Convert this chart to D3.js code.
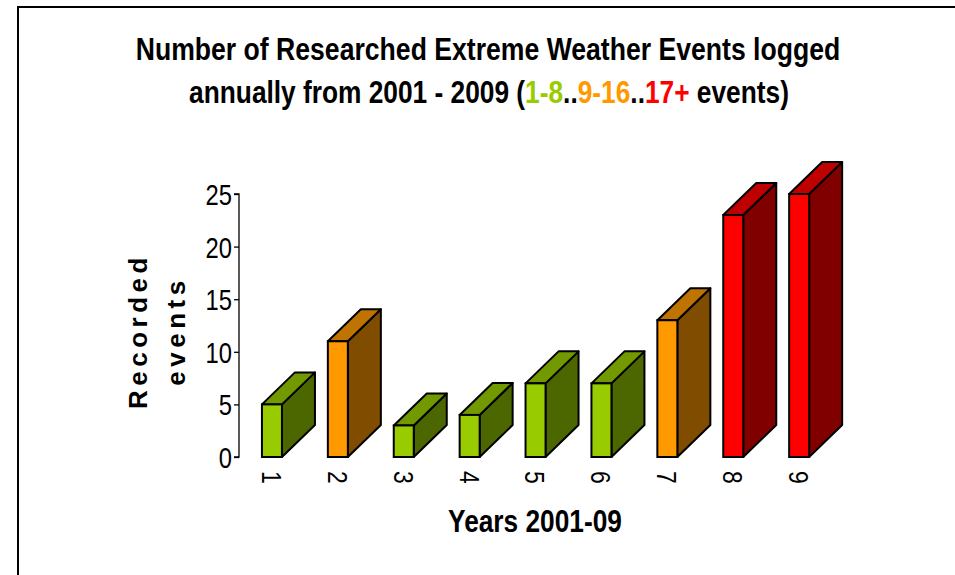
<!DOCTYPE html>
<html>
<head>
<meta charset="utf-8">
<script src="https://cdn.jsdelivr.net/npm/d3@7"></script>
<style>
  html, body { margin: 0; padding: 0; background: #fff; }
  svg { display: block; }
  text { font-family: "Liberation Sans Narrow", "Arial Narrow", "Liberation Sans", Arial, sans-serif; }
</style>
</head>
<body>
<svg id="chart" width="955" height="575"></svg>
<script>
// Years (numbered 1..9 for 2001..2009) and recorded events per year
const years = ["1", "2", "3", "4", "5", "6", "7", "8", "9"];
const events = [5, 11, 3, 4, 7, 7, 13, 23, 25];
const yTicks = [0, 5, 10, 15, 20, 25];

// Colour bands: 1-8 green, 9-16 orange, 17+ red
const bandLimits = [8, 16];
const bandFront = ["#99cc00", "#ff9900", "#ff0000"];
const bandTop   = ["#739900", "#bf7300", "#bf0000"];
const bandSide  = ["#4c6600", "#804d00", "#800000"];

const svg = d3.select("#chart");
const narrow = 0.82; // horizontal condensing for the narrow type

// squeeze a centred text horizontally so it spans the given width
function fitWidth(sel, cx, width) {
  const w = sel.node().getBBox().width;
  const s = width / w;
  sel.attr("transform", `translate(${cx},0) scale(${s},1) translate(${-cx},0)`);
}

// frame around the chart area
svg.append("rect")
  .attr("x", 18).attr("y", 7)
  .attr("width", 1000).attr("height", 1000)
  .attr("fill", "none").attr("stroke", "#000").attr("stroke-width", 2);

const plotLeft = 239;
const step = 65.9;
const x = d3.scaleBand()
  .domain(years)
  .range([plotLeft, plotLeft + step * years.length])
  .padding(0);
const y = d3.scaleLinear().domain([0, 25]).range([457, 194]);

const frontW = 20;
const depthX = 33, depthY = -32;

const band = d3.scaleThreshold().domain(bandLimits.map(v => v + 0.5)).range([0, 1, 2]);

// Y axis
const yAxis = d3.axisLeft(y).tickValues(yTicks).tickSize(5).tickPadding(4);
const gy = svg.append("g").attr("transform", `translate(${plotLeft},0)`).call(yAxis);
gy.select(".domain").attr("stroke", "#000").attr("stroke-width", 1.3)
  .attr("d", `M-5,${y(25)}H0V${y(0)}H-5`);
gy.selectAll(".tick line").attr("stroke", "#000").attr("stroke-width", 1.3);
gy.selectAll(".tick text")
  .attr("font-size", 29)
  .attr("fill", "#000")
  .attr("font-family", null)
  .attr("x", -7 / narrow)
  .attr("transform", `scale(${narrow},1)`)
  .attr("dy", "0.36em");

// 3D bars
const bars = svg.append("g").selectAll("g.bar")
  .data(years.map((k, i) => ({ k, v: events[i] })))
  .join("g").attr("class", "bar");

bars.each(function (d) {
  const g = d3.select(this);
  const x0 = x(d.k) + (x.bandwidth() - frontW) / 2;
  const x1 = x0 + frontW;
  const yb = y(0), yt = y(d.v);
  const c = band(d.v);
  const sw = 2;
  // side face
  g.append("path")
    .attr("d", `M${x1},${yt}L${x1 + depthX},${yt + depthY}L${x1 + depthX},${yb + depthY}L${x1},${yb}Z`)
    .attr("fill", bandSide[c]).attr("stroke", "#000").attr("stroke-width", sw).attr("stroke-linejoin", "round");
  // top face
  g.append("path")
    .attr("d", `M${x0},${yt}L${x0 + depthX},${yt + depthY}L${x1 + depthX},${yt + depthY}L${x1},${yt}Z`)
    .attr("fill", bandTop[c]).attr("stroke", "#000").attr("stroke-width", sw).attr("stroke-linejoin", "round");
  // front face
  g.append("rect")
    .attr("x", x0).attr("y", yt).attr("width", frontW).attr("height", yb - yt)
    .attr("fill", bandFront[c]).attr("stroke", "#000").attr("stroke-width", sw);
});

// X tick labels, rotated to read downwards
svg.append("g").selectAll("text")
  .data(years)
  .join("text")
  .attr("font-size", 28)
  .attr("transform", d => `translate(${x(d) + x.bandwidth() / 2},471) rotate(90) scale(${narrow},1)`)
  .attr("dy", "0.36em")
  .attr("text-anchor", "start")
  .text(d => d);

// X axis title
const xTitle = svg.append("text")
  .attr("x", 535).attr("y", 532)
  .attr("text-anchor", "middle")
  .attr("font-size", 32).attr("font-weight", "bold")
  .text("Years 2001-09");
fitWidth(xTitle, 535, 174);

// Y axis title (two lines)
const yTitle = svg.append("text")
  .attr("transform", "translate(0,331) rotate(-90)")
  .attr("text-anchor", "middle")
  .style("font-family", "'Liberation Sans', Arial, sans-serif")
  .attr("font-size", 26).attr("font-weight", "bold")
  .attr("letter-spacing", 4.5);
yTitle.append("tspan").attr("x", 0).attr("y", 147).text("Recorded");
yTitle.append("tspan").attr("x", 0).attr("y", 185).text("events");

// Title, two lines
const line1 = svg.append("text")
  .attr("text-anchor", "middle")
  .attr("x", 488).attr("y", 60)
  .attr("font-size", 31).attr("font-weight", "bold")
  .text("Number of Researched Extreme Weather Events logged");
fitWidth(line1, 488, 705);

const line2 = svg.append("text")
  .attr("text-anchor", "middle")
  .attr("x", 489).attr("y", 103)
  .attr("font-size", 31).attr("font-weight", "bold");
const parts = [
  ["annually from 2001 - 2009 (", "#000"],
  ["1-8", bandFront[0]],
  ["..", "#000"],
  ["9-16", bandFront[1]],
  ["..", "#000"],
  ["17+", bandFront[2]],
  [" events)", "#000"]
];
parts.forEach(([t, col]) => line2.append("tspan").attr("fill", col).text(t));
fitWidth(line2, 489, 600);
</script>
</body>
</html>
